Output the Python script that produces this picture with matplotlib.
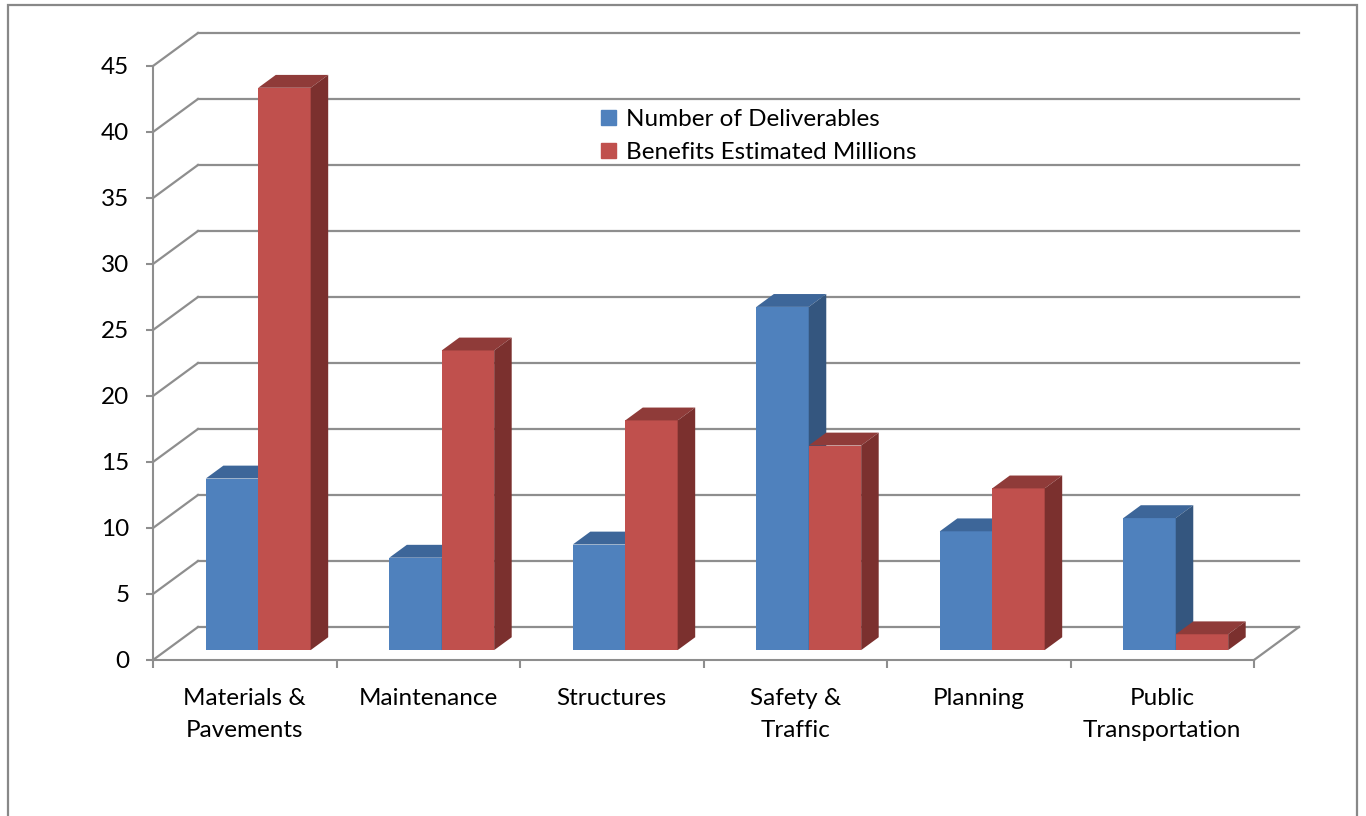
import numpy as np
import matplotlib
matplotlib.use('Agg')
import matplotlib.pyplot as plt
from matplotlib.patches import Polygon, Rectangle, Patch

categories = ['Materials &\nPavements', 'Maintenance', 'Structures', 'Safety &\nTraffic',
              'Planning', 'Public\nTransportation']
deliverables = [13, 7, 8, 26, 9, 10]
benefits = [42.6, 22.7, 17.4, 15.5, 12.25, 1.2]
series_names = ['Number of Deliverables', 'Benefits Estimated Millions']
yticks = list(range(0, 50, 5))

plt.rcParams['font.family'] = ['Lato', 'DejaVu Sans']

# colours: front / top / side
blue = ('#4F81BD', '#3D6699', '#34567F')
red = ('#C0504D', '#8F3B39', '#7B302E')
grid_c = '#8E8E8E'

# 3d depth of the chart box in data units (x: categories, y: values)
DX, DY = 0.245, 2.5
bw = 1 / 3.5          # gap width 150%
f0, fd = 0.30, 0.39   # bar front depth and bar depth

fig = plt.figure(figsize=(13.66, 8.16), dpi=100)
ax = fig.add_axes([153 / 1366, (816 - 660) / 816, 1101 / 1366, 594 / 816])
ax.set_xlim(0, 6)
ax.set_ylim(0, 45)
for s in ['top', 'right']:
    ax.spines[s].set_visible(False)
for s in ['left', 'bottom']:
    ax.spines[s].set_color(grid_c)
    ax.spines[s].set_linewidth(1.5)
ax.patch.set_visible(False)

# back wall gridlines and diagonals
for v in yticks:
    ax.plot([DX, 6 + DX], [v + DY, v + DY], color=grid_c, lw=1.6, clip_on=False, zorder=1)
    ax.plot([0, DX], [v, v + DY], color=grid_c, lw=1.6, clip_on=False, zorder=1)
ax.plot([6, 6 + DX], [0, DY], color=grid_c, lw=1.6, clip_on=False, zorder=1)

x = np.arange(len(categories))


def draw_bars(xl, vals, cols, label):
    left = xl + f0 * DX
    bot = f0 * DY
    ddx, ddy = fd * DX, fd * DY
    bars = ax.bar(left, vals, width=bw, bottom=bot, align='edge', color=cols[0],
                  label=label, zorder=3, clip_on=False)
    for l, v in zip(left, vals):
        top = [(l, bot + v), (l + bw, bot + v), (l + bw + ddx, bot + v + ddy), (l + ddx, bot + v + ddy)]
        side = [(l + bw, bot), (l + bw, bot + v), (l + bw + ddx, bot + v + ddy), (l + bw + ddx, bot + ddy)]
        ax.add_patch(Polygon(top, closed=True, facecolor=cols[1], edgecolor='none', zorder=3, clip_on=False))
        ax.add_patch(Polygon(side, closed=True, facecolor=cols[2], edgecolor='none', zorder=3, clip_on=False))
    return bars


# draw per category so the red front hides the blue side
for i in range(len(categories)):
    draw_bars(np.array([x[i] + 0.75 * bw]), [deliverables[i]], blue, series_names[0] if i == 0 else None)
    draw_bars(np.array([x[i] + 1.75 * bw]), [benefits[i]], red, series_names[1] if i == 0 else None)

fs = 17.5
ax.set_yticks(yticks)
ax.set_yticklabels([str(t) for t in yticks], fontsize=fs, color='black')
ax.tick_params(axis='y', direction='out', length=5, width=1.5, color=grid_c, pad=12)
ax.set_xticks(np.arange(0, 7))
ax.set_xticklabels([])
ax.set_xticks(x + 0.5, minor=True)
ax.set_xticklabels(categories, minor=True, fontsize=fs, linespacing=1.68, color='black')
ax.tick_params(axis='x', which='major', direction='out', length=6, width=1.5, color=grid_c)
ax.tick_params(axis='x', which='minor', length=0, pad=20)

handles = [Patch(color=blue[0]), Patch(color=red[0])]
fig.legend(handles, series_names, loc='upper left', bbox_to_anchor=(601 / 1366, 1 - 109 / 816),
           frameon=False, fontsize=fs, handlelength=0.62, handleheight=0.62,
           handletextpad=0.4, labelspacing=0.5, borderpad=0, borderaxespad=0)

# outer chart border
fig.patches.append(Rectangle((8 / 1366, -0.01), 1349 / 1366, 1 - 5 / 816 + 0.01,
                             transform=fig.transFigure, fill=False, edgecolor='#888888', lw=1.6))

fig.savefig('out.png', dpi=100)
